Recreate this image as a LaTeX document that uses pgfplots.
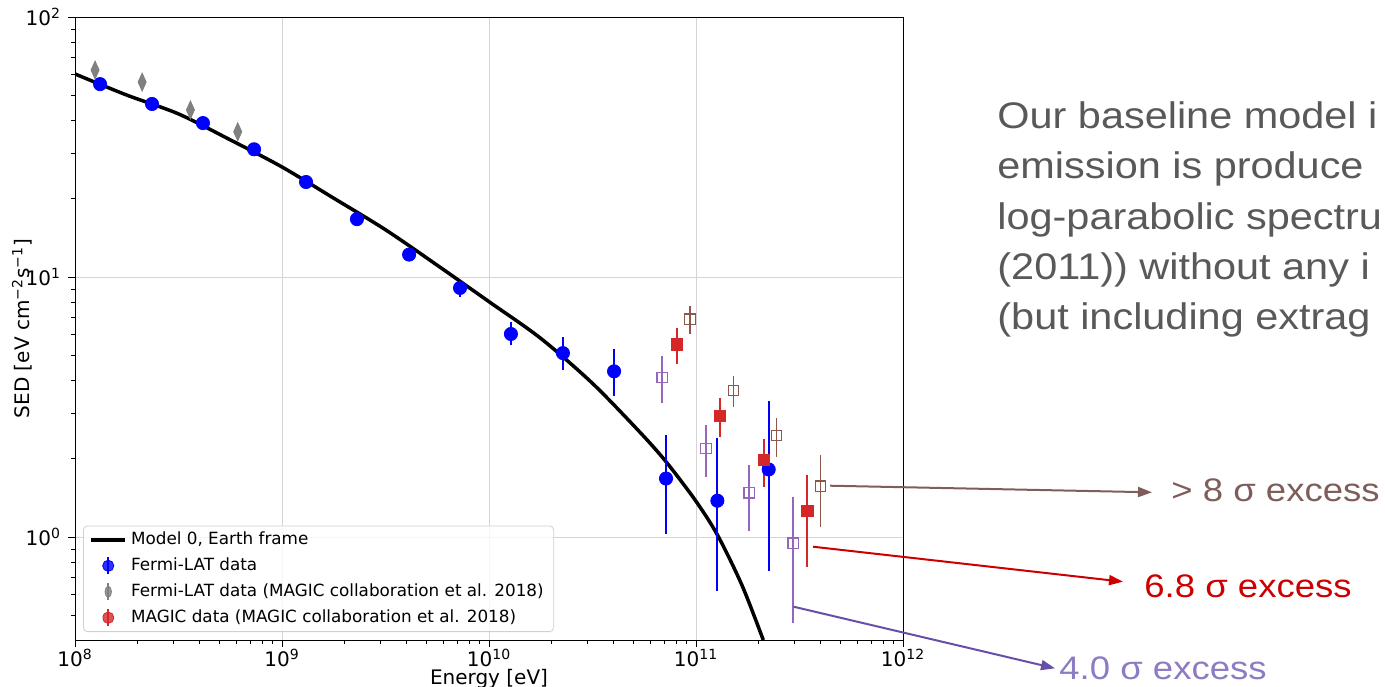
\documentclass[border=0pt]{standalone}
\usepackage{fontspec}
\setmainfont{DejaVu Sans}
\newfontfamily\slidefont[FakeStretch=1.12]{Liberation Sans}
\usepackage{pgfplots}
\pgfplotsset{compat=1.18}
\usetikzlibrary{arrows.meta}
\definecolor{tabred}{HTML}{D62728}
\definecolor{tabbrown}{HTML}{8C564B}
\definecolor{tabpurple}{HTML}{9467BD}
\definecolor{slidegray}{HTML}{595959}
\definecolor{annbrown}{HTML}{7E5D5A}
\definecolor{annred}{HTML}{CC0000}
\definecolor{annpurple}{HTML}{8E7CC3}
\definecolor{arrpurple}{HTML}{674EA7}
\definecolor{gridgray}{HTML}{D5D5D5}
\definecolor{legframe}{HTML}{D0D0D0}

\begin{document}
\begin{tikzpicture}
\path[use as bounding box] (0,0) rectangle (692.5pt,-343pt);
\clip (0,0) rectangle (692.5pt,-343pt);
\begin{axis}[
  at={(37.5pt,-320pt)}, anchor=south west,
  scale only axis, width=414pt, height=311.5pt,
  xmode=log, ymode=log,
  xmin=1e8, xmax=1e12, ymin=0.402, ymax=100,
  xtick={1e8,1e9,1e10,1e11,1e12},
  xticklabels={10\textsuperscript{8},10\textsuperscript{9},10\textsuperscript{10},10\textsuperscript{11},10\textsuperscript{12}},
  minor xtick={2e8,3e8,4e8,5e8,6e8,7e8,8e8,9e8,2e9,3e9,4e9,5e9,6e9,7e9,8e9,9e9,2e10,3e10,4e10,5e10,6e10,7e10,8e10,9e10,2e11,3e11,4e11,5e11,6e11,7e11,8e11,9e11},
  ytick={1,10,100},
  yticklabels={10\textsuperscript{0},10\textsuperscript{1},10\textsuperscript{2}},
  minor ytick={0.5,0.6,0.7,0.8,0.9,2,3,4,5,6,7,8,9,20,30,40,50,60,70,80,90},
  xtick pos=bottom, ytick pos=left,
  tick align=outside,
  major tick length=3.5pt, minor tick length=2pt,
  every tick/.style={black, line width=0.4pt},
  grid=major,
  major grid style={gridgray, line width=0.5pt},
  axis line style={black, line width=0.5pt},
  tick label style={font=\fontsize{10}{12}\selectfont},
  xticklabel style={yshift=2.5pt},
  xlabel={Energy [eV]},
  ylabel={SED [eV cm\textsuperscript{−2}s\textsuperscript{−1}]},
  every axis x label/.style={at={(axis description cs:0.5,-0.0706)}, anchor=base, font=\fontsize{10}{12}\selectfont},
  every axis y label/.style={at={(axis description cs:-0.064,0.5)}, anchor=center, rotate=90, font=\fontsize{10}{12}\selectfont},
  legend style={at={(0,0)}, anchor=south west, xshift=4pt, yshift=4pt,
    draw=legframe, rounded corners=2pt, fill=white, fill opacity=0.8, text opacity=1,
    font=\fontsize{8.4}{10}\selectfont, row sep=1.1pt, inner xsep=3pt, inner ysep=1pt},
  legend cell align=left,
]
% Model curve
\addplot[black, line width=1.75pt, smooth] coordinates {
(1e8,60.4)(1.778e8,50.1)(3.162e8,42.4)(5.623e8,33.7)(1e9,26.5)(1.778e9,20.1)
(3.162e9,15.2)(5.623e9,11.1)(1e10,8.04)(1.778e10,5.81)(3.162e10,3.90)
(5.36e10,2.53)(7.16e10,1.95)(9.89e10,1.39)(1.268e11,1.02)(1.667e11,0.653)(2.113e11,0.402)
};
\addlegendentry{Model 0, Earth frame}

% Fermi-LAT data
\addplot[blue, only marks, mark=*, mark size=3.3pt,
  legend image code/.code={\draw[blue, line width=1pt] (0.3cm,-0.15cm) -- (0.3cm,0.15cm); \fill[blue] (0.3cm,0cm) circle (2.8pt);},
  error bars/.cd, y dir=both, y explicit, error mark=none, error bar style={line width=1pt}]
coordinates {
(1.321e8,55.2) += (0,1.2) -= (0,1.2)
(2.355e8,46.3) += (0,1.0) -= (0,1.0)
(4.150e8,39.1) += (0,0.9) -= (0,0.9)
(7.328e8,31.0) += (0,0.8) -= (0,0.8)
(1.306e9,23.2) += (0,0.6) -= (0,0.6)
(2.301e9,16.7) += (0,0.5) -= (0,0.5)
(4.111e9,12.2) += (0,0.4) -= (0,0.4)
(7.244e9,9.08) += (0,0.6) -= (0,0.7)
(1.276e10,6.04) += (0,0.69) -= (0,0.58)
(2.275e10,5.10) += (0,0.77) -= (0,0.72)
(4.018e10,4.34) += (0,0.95) -= (0,0.85)
(7.161e10,1.68) += (0,0.80) -= (0,0.65)
(1.268e11,1.38) += (0,1.02) -= (0,0.76)
(2.244e11,1.82) += (0,1.52) -= (0,1.08)
};
\addlegendentry{Fermi-LAT data}

% Fermi-LAT data (MAGIC 2018)
\addplot[gray, only marks, mark=diamond*, mark size=4.5pt, mark options={xscale=0.6},
  legend image code/.code={\draw[gray, line width=1pt] (0.3cm,-0.15cm) -- (0.3cm,0.15cm); \fill[gray] (0.3cm,3.8pt) -- (0.3cm+2.2pt,0pt) -- (0.3cm,-3.8pt) -- (0.3cm-2.2pt,0pt) -- cycle;},
  error bars/.cd, y dir=both, y explicit, error mark=none, error bar style={line width=1pt}]
coordinates {
(1.25e8,62.5) += (0,1.5) -= (0,1.5)
(2.11e8,56.2) += (0,1.3) -= (0,1.3)
(3.61e8,43.9) += (0,1.0) -= (0,1.0)
(6.11e8,36.2) += (0,0.9) -= (0,0.9)
};
\addlegendentry{Fermi-LAT data (MAGIC collaboration et al. 2018)}

% MAGIC data
\addplot[tabred, only marks, mark=square*, mark size=2.8pt,
  legend image code/.code={\draw[tabred, line width=1pt] (0.3cm,-0.15cm) -- (0.3cm,0.15cm); \fill[tabred] (0.3cm-2.6pt,-2.6pt) rectangle (0.3cm+2.6pt,2.6pt);},
  error bars/.cd, y dir=both, y explicit, error mark=none, error bar style={line width=1pt}]
coordinates {
(8.09e10,5.51) += (0,0.84) -= (0,0.87)
(1.309e11,2.93) += (0,0.51) -= (0,0.50)
(2.123e11,1.98) += (0,0.41) -= (0,0.42)
(3.451e11,1.26) += (0,0.48) -= (0,0.49)
};
\addlegendentry{MAGIC data (MAGIC collaboration et al. 2018)}

% brown open squares
\addplot[tabbrown, only marks, mark=square, mark size=2.6pt, mark options={fill=white, line width=0.6pt}, forget plot,
  error bars/.cd, y dir=both, y explicit, error mark=none, error bar style={line width=0.8pt}]
coordinates {
(9.35e10,6.89) += (0,0.87) -= (0,0.85)
(1.514e11,3.66) += (0,0.49) -= (0,0.50)
(2.443e11,2.46) += (0,0.40) -= (0,0.43)
(4.00e11,1.57) += (0,0.49) -= (0,0.48)
};

% purple open squares
\addplot[tabpurple, only marks, mark=square, mark size=2.6pt, mark options={fill=white, line width=0.6pt}, forget plot,
  error bars/.cd, y dir=both, y explicit, error mark=none, error bar style={line width=0.8pt}]
coordinates {
(6.87e10,4.11) += (0,0.84) -= (0,0.84)
(1.117e11,2.19) += (0,0.50) -= (0,0.49)
(1.807e11,1.48) += (0,0.41) -= (0,0.42)
(2.944e11,0.948) += (0,0.482) -= (0,0.482)
};
\end{axis}

\begin{scope}[x=0.5pt, y=-0.5pt]
  % slide text (cut at the right edge as in the slide)
  \begin{scope}[every node/.style={anchor=base west, inner sep=0pt, text=slidegray, font=\slidefont\fontsize{18.5}{22}\selectfont}]
    \node at (997,128) {Our baseline model i};
    \node at (997,178) {emission is produce};
    \node at (997,229) {log-parabolic spectru};
    \node at (997,279) {(2011)) without any i};
    \node at (997,329) {(but including extrag};
  \end{scope}
  % arrows
  \draw[annbrown, line width=1pt, -{Triangle[length=7pt,width=5pt]}] (830,485.7) -- (1152,492.3);
  \draw[annred, line width=1pt, -{Triangle[length=7pt,width=5pt]}] (813,546.7) -- (1123,581.7);
  \draw[arrpurple, line width=1pt, -{Triangle[length=7pt,width=5pt]}] (793.6,606.7) -- (1055,668.3);
  % annotation texts
  \node[anchor=base west, inner sep=0pt, text=annbrown, font=\slidefont\fontsize{16.3}{20}\selectfont] at (1171,501) {> 8 σ excess};
  \node[anchor=base west, inner sep=0pt, text=annred, font=\slidefont\fontsize{16.3}{20}\selectfont] at (1144,597) {6.8 σ excess};
  \node[anchor=base west, inner sep=0pt, text=annpurple, font=\slidefont\fontsize{16.3}{20}\selectfont] at (1059,679) {4.0 σ excess};
\end{scope}
\end{tikzpicture}
\end{document}
